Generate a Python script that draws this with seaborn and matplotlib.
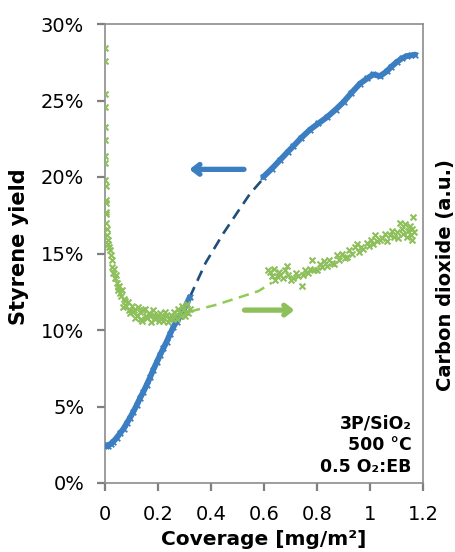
import numpy as np
import pandas as pd
import matplotlib
matplotlib.use("Agg")
import matplotlib.pyplot as plt
from matplotlib.ticker import FuncFormatter
import seaborn as sns

# ---------------- data ----------------
blue_low_x = [0.0, 0.004, 0.012, 0.022, 0.031, 0.044, 0.057, 0.070, 0.082, 0.095, 0.107,
              0.120, 0.132, 0.145, 0.157, 0.170, 0.182, 0.195, 0.208, 0.220, 0.233,
              0.245, 0.258, 0.270, 0.283, 0.296, 0.308, 0.320]
blue_low_y = [2.50, 2.42, 2.45, 2.55, 2.70, 2.95, 3.25, 3.55, 3.90, 4.28, 4.66,
              5.10, 5.54, 5.97, 6.40, 6.90, 7.40, 7.88, 8.37, 8.80, 9.24,
              9.72, 10.20, 10.55, 10.90, 11.30, 11.70, 12.15]
blue_dash_x = [0.320, 0.380, 0.446, 0.500, 0.547, 0.600]
blue_dash_y = [12.15, 14.40, 16.30, 17.70, 18.90, 19.95]
blue_high_x = [0.597, 0.630, 0.660, 0.690, 0.710, 0.740, 0.774, 0.805, 0.837, 0.870,
               0.900, 0.930, 0.962, 0.990, 1.012, 1.038, 1.063, 1.080, 1.100, 1.120,
               1.138, 1.155, 1.170]
blue_high_y = [20.00, 20.55, 21.10, 21.65, 22.00, 22.55, 23.10, 23.50, 23.90, 24.40,
               24.90, 25.50, 26.10, 26.45, 26.70, 26.60, 26.90, 27.20, 27.50, 27.75,
               27.90, 27.95, 28.00]

green_low_x = [0.0, 0.0, 0.0, 0.0, 0.0, 0.0, 0.0, 0.0, 0.0, 0.002, 0.002, 0.003, 0.003,
               0.004, 0.005, 0.006, 0.008, 0.010, 0.012, 0.015, 0.019, 0.022, 0.025,
               0.028, 0.031, 0.035, 0.038, 0.041, 0.044, 0.048, 0.050, 0.054, 0.057,
               0.060, 0.064, 0.069, 0.072, 0.075, 0.080, 0.085, 0.090, 0.094, 0.100,
               0.105, 0.110, 0.115, 0.120, 0.126, 0.132, 0.136, 0.140, 0.145, 0.150,
               0.155, 0.160, 0.165, 0.170, 0.175, 0.180, 0.185, 0.190, 0.196, 0.200,
               0.205, 0.208, 0.214, 0.220, 0.226, 0.230, 0.236, 0.245, 0.250, 0.256,
               0.260, 0.266, 0.270, 0.276, 0.283, 0.288, 0.292, 0.296, 0.300, 0.306,
               0.310, 0.314, 0.320]
green_low_y = [28.4, 27.6, 25.4, 24.6, 23.3, 22.4, 21.4, 20.9, 19.8, 19.4, 18.5, 18.3, 17.7,
               17.6, 17.0, 16.6, 16.2, 15.9, 15.6, 15.4, 15.2, 14.9, 14.6,
               14.1, 13.7, 14.0, 13.4, 13.6, 13.1, 12.8, 12.6, 12.9, 12.4,
               12.2, 12.6, 11.5, 12.0, 11.9, 11.6, 11.8, 11.3, 11.1, 11.6,
               11.2, 11.3, 10.8, 10.9, 11.5, 11.2, 10.7, 10.6, 11.3, 11.4,
               10.9, 10.8, 11.1, 10.9, 10.5, 11.3, 11.0, 10.7, 10.9, 11.0,
               10.6, 11.1, 10.8, 10.6, 11.2, 10.9, 10.5, 10.8, 11.0, 10.7,
               11.2, 10.9, 10.7, 11.4, 11.1, 10.9, 11.6, 11.3, 10.9, 11.2,
               11.7, 11.1, 11.4]
green_dash_x = [0.320, 0.420, 0.510, 0.580, 0.630]
green_dash_y = [11.20, 11.65, 12.15, 12.55, 13.10]
green_high_x = [0.615, 0.623, 0.630, 0.636, 0.642, 0.648, 0.655, 0.662, 0.670, 0.678,
                0.685, 0.692, 0.700, 0.711, 0.720, 0.730, 0.742, 0.748, 0.756, 0.765,
                0.772, 0.780, 0.790, 0.800, 0.810, 0.820, 0.828, 0.836, 0.846, 0.856,
                0.866, 0.874, 0.884, 0.894, 0.904, 0.912, 0.922, 0.932, 0.942, 0.950,
                0.958, 0.967, 0.975, 0.987, 0.995, 1.005, 1.012, 1.019, 1.028, 1.038,
                1.046, 1.055, 1.065, 1.075, 1.083, 1.092, 1.100, 1.107, 1.113, 1.120,
                1.126, 1.132, 1.138, 1.145, 1.150, 1.155, 1.157, 1.160, 1.163, 1.165]
green_high_y = [13.9, 13.8, 13.5, 14.0, 13.3, 13.5, 13.8, 13.6, 13.4, 13.9,
                14.2, 13.6, 13.3, 13.4, 13.7, 13.5, 12.9, 13.6, 13.9, 13.7,
                14.0, 14.6, 13.9, 13.9, 14.3, 14.1, 14.5, 14.2, 14.6, 14.4,
                14.3, 14.9, 14.6, 15.0, 14.7, 14.8, 15.2, 15.0, 15.4, 15.6,
                15.1, 15.4, 15.3, 15.7, 15.5, 15.9, 15.6, 16.2, 15.8, 15.9,
                16.0, 16.3, 15.8, 16.2, 16.5, 16.1, 16.4, 16.0, 17.0, 16.6,
                16.3, 16.9, 16.1, 16.5, 16.8, 16.2, 15.9, 16.6, 17.4, 16.4]

blue_arrow = (0.535, 0.308, 20.5)   # tail x, head x, y
green_arrow = (0.516, 0.725, 11.3)

x_ticks = [0, 0.2, 0.4, 0.6, 0.8, 1.0, 1.2]
y_ticks = [0, 5, 10, 15, 20, 25, 30]
annotation_lines = ["3P/SiO₂", "500 °C", "0.5 O₂:EB"]

# ---------------- style ----------------
BLUE = "#3C7EC2"
BLUE_DASH = "#1F4E79"
GREEN = "#8DBF5A"
GREEN_DASH = "#8FCB55"
GRAY = "#8C8C8C"

sns.set_style("ticks")
plt.rcParams.update({
    'font.family': ['DejaVu Sans'],
    'text.color': 'black',
    'axes.labelcolor': 'black',
})

fig = plt.figure(figsize=(4.55, 5.52), dpi=100)
ax = fig.add_axes([105 / 455, 1 - 483 / 552, (423 - 105) / 455, (483 - 24) / 552])

df_bl = pd.DataFrame({"x": blue_low_x, "y": blue_low_y})
df_bh = pd.DataFrame({"x": blue_high_x, "y": blue_high_y})
df_bd = pd.DataFrame({"x": blue_dash_x, "y": blue_dash_y})
sns.lineplot(data=df_bd, x="x", y="y", ax=ax, color=BLUE_DASH, lw=1.9,
             sort=False, estimator=None)
ax.get_lines()[-1].set_linestyle((0, (4.2, 2.6)))
for d in (df_bl, df_bh):
    sns.lineplot(data=d, x="x", y="y", ax=ax, color=BLUE, lw=4.2,
                 sort=False, estimator=None, solid_capstyle="round")
    sns.scatterplot(data=d, x="x", y="y", ax=ax, color=BLUE, marker="x",
                    s=16, linewidth=1.3, zorder=3)

df_gl = pd.DataFrame({"x": green_low_x, "y": green_low_y})
df_gh = pd.DataFrame({"x": green_high_x, "y": green_high_y})
df_gd = pd.DataFrame({"x": green_dash_x, "y": green_dash_y})
sns.lineplot(data=df_gd, x="x", y="y", ax=ax, color=GREEN_DASH, lw=1.8,
             sort=False, estimator=None)
ax.get_lines()[-1].set_linestyle((0, (4.2, 2.6)))
for d in (df_gl, df_gh):
    sns.scatterplot(data=d, x="x", y="y", ax=ax, color=GREEN, marker="x",
                    s=18, linewidth=1.5, zorder=3)

ax.annotate("", xy=(blue_arrow[1], blue_arrow[2]), xytext=(blue_arrow[0], blue_arrow[2]),
            arrowprops=dict(arrowstyle="->,head_length=0.45,head_width=0.35",
                            color=BLUE, lw=3.8))
ax.annotate("", xy=(green_arrow[1], green_arrow[2]), xytext=(green_arrow[0], green_arrow[2]),
            arrowprops=dict(arrowstyle="->,head_length=0.45,head_width=0.35",
                            color=GREEN, lw=3.8))

ax.set_xlim(0, 1.2)
ax.set_ylim(0, 30)
ax.set_xticks(x_ticks)
ax.set_yticks(y_ticks)
ax.xaxis.set_major_formatter(FuncFormatter(lambda v, p: f"{v:g}"))
ax.yaxis.set_major_formatter(FuncFormatter(lambda v, p: f"{v:.0f}%"))
ax.tick_params(axis="both", which="major", bottom=True, left=True, top=False, right=False,
               direction="out", length=6, width=1.6, color="#7F7F7F",
               labelsize=14, labelcolor="black")
ax.tick_params(axis="x", pad=10)
ax.tick_params(axis="y", pad=9)
for s in ax.spines.values():
    s.set_color(GRAY)
    s.set_linewidth(1.2)
    s.set_visible(True)

ax.set_xlabel("Coverage [mg/m²]", fontsize=14.5, fontweight="bold", labelpad=4)
ax.set_ylabel("Styrene yield", fontsize=15, fontweight="bold")
ax.yaxis.set_label_coords(-0.24, 0.515)
fig.text(445 / 455, 1 - 275 / 552, "Carbon dioxide (a.u.)", rotation=90,
         ha="center", va="center", fontsize=14, fontweight="bold")

ax.text(0.965, 0.016, "\n".join(annotation_lines), transform=ax.transAxes,
        ha="right", va="bottom", fontsize=12.5, fontweight="bold",
        linespacing=1.25, multialignment="right")

fig.savefig("out.png", dpi=100)
